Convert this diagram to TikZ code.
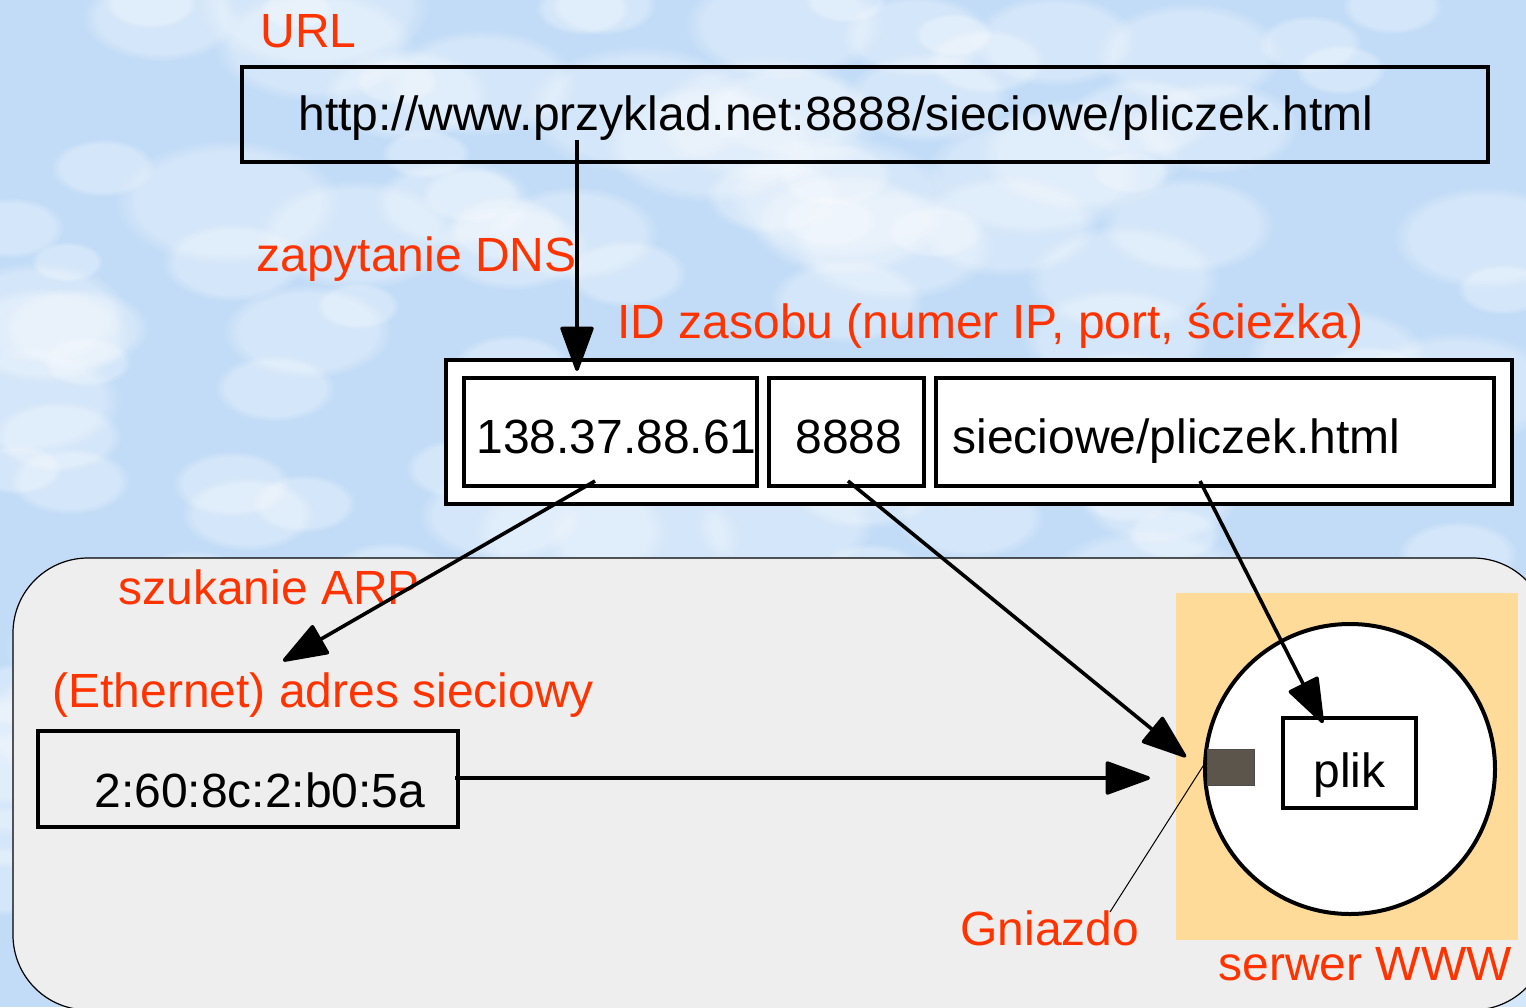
\documentclass[tikz,border=0pt]{standalone}
\usepackage{fontspec}
\setmainfont{Liberation Sans}
\usetikzlibrary{arrows.meta,fadings}
\definecolor{bgblue}{HTML}{C2DCF7}
\definecolor{redtxt}{HTML}{FF3300}
\definecolor{graybg}{HTML}{EEEEEE}
\definecolor{orangebg}{HTML}{FFDB99}
\definecolor{sock}{HTML}{5C554C}
\begin{document}
\begin{tikzpicture}[x=0.5pt,y=-0.5pt,
  box/.style={draw=black,line width=2pt,inner sep=0pt},
  redlbl/.style={text=redtxt,font=\fontsize{24}{28}\selectfont,inner sep=0pt,anchor=base west},
  blklbl/.style={text=black,font=\fontsize{24}{28}\selectfont,inner sep=0pt,anchor=base west},
  arr/.style={line width=1.8pt,-{Triangle[length=24pt,width=17pt,round]}}]
\useasboundingbox (0,0) rectangle (1526,1007);
% background
\fill[bgblue] (0,0) rectangle (1526,1007);
\pgfmathsetseed{11}
\foreach \i in {1,...,160}{
  \pgfmathsetmacro\bx{rnd*1526}
  \pgfmathsetmacro\by{rnd*1007}
  \pgfmathsetmacro\br{20+rnd*45}
  \fill[white,fill opacity=0.3,path fading=circle with fuzzy edge 20 percent]
    (\bx,\by) ellipse [x radius=1.8*\br, y radius=\br];
}
% local network region
\draw[line width=0.6pt,fill=graybg,rounded corners=37.5pt] (13,558) rectangle (1548,1010);
% server
\fill[orangebg] (1176,593) rectangle (1518,940);
\node[circle,draw=black,line width=2pt,fill=white,minimum size=145pt,inner sep=0pt] (srv) at (1350,769) {};
\node[fill=sock,draw=black!70,line width=0.4pt,minimum width=23.5pt,minimum height=18pt,inner sep=0pt] (sock) at (1230.5,767) {};
\node[box,fill=white,minimum width=66.5pt,minimum height=45pt] (plik) at (1349.5,763) {};
% boxes
\node[box,minimum width=623pt,minimum height=47.5pt] (urlbox) at (865,114.5) {};
\node[box,fill=white,minimum width=533pt,minimum height=72pt] (idbox) at (979,432) {};
\node[box,fill=white,minimum width=146.5pt,minimum height=54pt] (ipbox) at (610.5,432) {};
\node[box,fill=white,minimum width=77.5pt,minimum height=54pt] (portbox) at (846.5,432) {};
\node[box,fill=white,minimum width=279pt,minimum height=54pt] (pathbox) at (1215,432) {};
\node[box,minimum width=210pt,minimum height=48pt] (macbox) at (248,779) {};
% texts
\node[redlbl] (lurl) at (260,47) {URL};
\node[redlbl] (ldns) at (256,271) {zapytanie DNS};
\node[redlbl] (lid) at (617,338) {ID zasobu (numer IP, port, ścieżka)};
\node[redlbl] (larp) at (118,604) {szukanie ARP};
\node[redlbl] (leth) at (52,707) {(Ethernet) adres sieciowy};
\node[redlbl] (lgn) at (960,945) {Gniazdo};
\node[redlbl] (lsrv) at (1218,980) {serwer WWW};
\node[blklbl] (turl) at (298,130) {http://www.przyklad.net:8888/sieciowe/pliczek.html};
\node[blklbl] (tip) at (476,453) {138.37.88.61};
\node[blklbl] (tport) at (795,453) {8888};
\node[blklbl] (tpath) at (952,453) {sieciowe/pliczek.html};
\node[blklbl] (tmac) at (94,807) {2:60:8c:2:b0:5a};
\node[blklbl] (tplik) at (1313,787) {plik};
% connector end points
\coordinate (dnsA) at (577,140);
\coordinate (dnsB) at (577,371);
\coordinate (arpA) at (595,481);
\coordinate (arpB) at (283,661);
\coordinate (portA) at (848,481);
\coordinate (portB) at (1186,757);
\coordinate (pathA) at (1200,481);
\coordinate (pathB) at (1323,723);
\coordinate (macA) at (455,778);
\coordinate (macB) at (1150,778);
\coordinate (gnA) at (1110,912);
\coordinate (gnB) at (1205,763);
% connectors
\draw[arr] (dnsA) -- (dnsB);
\draw[arr] (arpA) -- (arpB);
\draw[arr] (portA) -- (portB);
\draw[arr] (pathA) -- (pathB);
\draw[arr] (macA) -- (macB);
\draw[line width=0.5pt] (gnA) -- (gnB);
\end{tikzpicture}
\end{document}
